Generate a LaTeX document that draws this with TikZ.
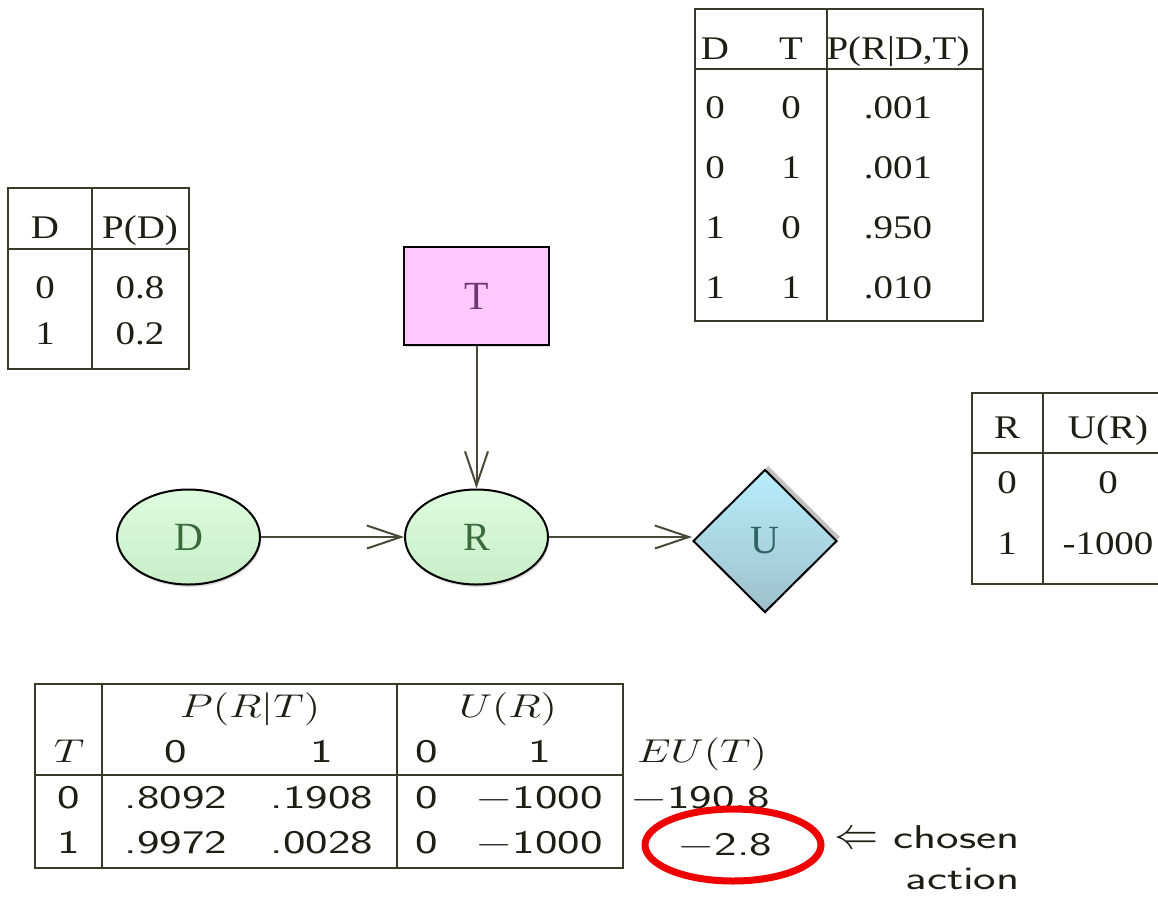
\documentclass[tikz,border=0pt]{standalone}
\usepackage{fix-cm}
\usepackage{fontspec}
\usepackage{graphicx}
\usetikzlibrary{shapes.geometric,arrows.meta,shadows}

\newfontfamily\labelfont{Liberation Serif}

\definecolor{rulecol}{HTML}{3A3A28}
\definecolor{inkcol}{HTML}{1E1E14}
\definecolor{edgecol}{HTML}{4A4A38}
\definecolor{pinkfill}{HTML}{FFC8FF}
\definecolor{greentop}{HTML}{DDFCDD}
\definecolor{greenbot}{HTML}{C8EEC8}
\definecolor{bluetop}{HTML}{B8EEFC}
\definecolor{bluebot}{HTML}{9EBFCB}
\definecolor{greenink}{HTML}{3A6B3A}
\definecolor{pinkink}{HTML}{703870}
\definecolor{blueink}{HTML}{2E6464}
\definecolor{markred}{HTML}{EE0000}

% widened cell texts
\newcommand{\serifcell}[1]{\scalebox{1.18}[1]{\labelfont\fontsize{16.5}{19}\selectfont #1}}
\newcommand{\sanscell}[1]{\scalebox{1.45}[1]{\sffamily\fontsize{16.5}{19}\selectfont #1}}
\newcommand{\mathcell}[1]{\scalebox{1.3}[1]{\fontsize{16.5}{19}\selectfont #1}}

\tikzset{
  tabrule/.style={draw=rulecol, line width=1.25pt},
  sumrule/.style={draw=rulecol, line width=1pt},
  cell/.style={anchor=base, inner sep=0pt, text=inkcol},
  chance/.style={ellipse, draw=black, line width=1pt, inner sep=0pt,
    minimum width=71.5pt, minimum height=47.5pt,
    top color=greentop, bottom color=greenbot, text=greenink,
    font=\labelfont\fontsize{20}{24}\selectfont,
    drop shadow={shadow xshift=0.6pt, shadow yshift=-1.2pt, fill=gray!60, opacity=0.5}},
  decision/.style={rectangle, draw=black, line width=1.3pt, inner sep=0pt,
    minimum width=72.5pt, minimum height=49pt, fill=pinkfill, text=pinkink,
    font=\labelfont\fontsize{20}{24}\selectfont,
    drop shadow={shadow xshift=0.6pt, shadow yshift=-0.8pt, fill=gray!60, opacity=0.4}},
  utility/.style={diamond, draw=black, line width=1pt, inner sep=0pt,
    minimum width=72pt, minimum height=71.5pt,
    top color=bluetop, bottom color=bluebot, text=blueink,
    font=\labelfont\fontsize{20}{24}\selectfont,
    drop shadow={shadow xshift=1.6pt, shadow yshift=2pt, fill=gray!70, opacity=0.7}},
  link/.style={draw=edgecol, line width=1pt, -{Straight Barb[length=17pt,width=11.5pt]}},
}

\begin{document}
\begin{tikzpicture}[x=0.5pt,y=-0.5pt]
\useasboundingbox (0,0) rectangle (1158,896);

% ---------- P(D) table ----------
\draw[tabrule] (8,188) rectangle (189,369);
\draw[tabrule] (92,188) -- (92,369);
\draw[tabrule] (8,249) -- (189,249);
\node[cell] (pd-h1) at (45,238) {\serifcell{D}};
\node[cell] (pd-h2) at (140,238) {\serifcell{P(D)}};
\node[cell] (pd-a1) at (45,298) {\serifcell{0}};
\node[cell] (pd-a2) at (140,298) {\serifcell{0.8}};
\node[cell] (pd-b1) at (45,344) {\serifcell{1}};
\node[cell] (pd-b2) at (140,344) {\serifcell{0.2}};

% ---------- P(R|D,T) table ----------
\draw[tabrule] (695,9) rectangle (983,321);
\draw[tabrule] (827,9) -- (827,321);
\draw[tabrule] (695,69) -- (983,69);
\node[cell] (pr-h1) at (715,59) {\serifcell{D}};
\node[cell] (pr-h2) at (791,59) {\serifcell{T}};
\node[cell] (pr-h3) at (898,59) {\serifcell{P(R|D,T)}};
\foreach \d/\t/\p/\y [count=\k] in {0/0/.001/118, 0/1/.001/178, 1/0/.950/238, 1/1/.010/298}{
  \node[cell] (pr-\k d) at (715,\y) {\serifcell{\d}};
  \node[cell] (pr-\k t) at (791,\y) {\serifcell{\t}};
  \node[cell] (pr-\k p) at (898,\y) {\serifcell{\p}};
}

% ---------- U(R) table ----------
\draw[tabrule] (1158,393) -- (972,393) -- (972,584) -- (1158,584);
\draw[tabrule] (1043,393) -- (1043,584);
\draw[tabrule] (972,453) -- (1158,453);
\node[cell] (ur-h1) at (1007,438) {\serifcell{R}};
\node[cell] (ur-h2) at (1108,438) {\serifcell{U(R)}};
\node[cell] (ur-a1) at (1007,493) {\serifcell{0}};
\node[cell] (ur-a2) at (1108,493) {\serifcell{0}};
\node[cell] (ur-b1) at (1007,554) {\serifcell{1}};
\node[cell] (ur-b2) at (1108,554) {\serifcell{-1000}};

% ---------- influence diagram ----------
\node[decision] (T) at (476.5,296) {T};
\node[chance] (D) at (188.5,537) {D};
\node[chance] (R) at (476.5,537) {R};
\node[utility] (U) at (765,541) {U};

\draw[link] (D.east) -- (R.west);
\draw[link] (R.east) -- (R.east -| U.west);
\draw[link] (T.south) -- (R.north);

% ---------- expected utility table ----------
\draw[sumrule] (35,684) rectangle (623,868);
\draw[sumrule] (102,684) -- (102,868);
\draw[sumrule] (397,684) -- (397,868);
\draw[sumrule] (35,775) -- (623,775);

\node[cell] (eu-prt) at (250,717) {\mathcell{$P(R|T)$}};
\node[cell] (eu-ur)  at (508,717) {\mathcell{$U(R)$}};

\node[cell] (eu-t)   at (69,762)  {\mathcell{$T$}};
\node[cell] (eu-p0)  at (176,762) {\sanscell{0}};
\node[cell] (eu-p1)  at (322,762) {\sanscell{1}};
\node[cell] (eu-u0)  at (427,762) {\sanscell{0}};
\node[cell] (eu-u1)  at (540,762) {\sanscell{1}};
\node[cell] (eu-eut) at (702,762) {\mathcell{$EU(T)$}};

\node[cell] (r0-t)  at (69,808)  {\sanscell{0}};
\node[cell] (r0-p0) at (176,808) {\sanscell{.8092}};
\node[cell] (r0-p1) at (322,808) {\sanscell{.1908}};
\node[cell] (r0-u0) at (427,808) {\sanscell{0}};
\node[cell] (r0-u1) at (539,808) {\sanscell{$-$1000}};
\node[cell] (r0-eu) at (700,808) {\sanscell{$-$190.8}};

\node[cell] (r1-t)  at (69,853)  {\sanscell{1}};
\node[cell] (r1-p0) at (176,853) {\sanscell{.9972}};
\node[cell] (r1-p1) at (322,853) {\sanscell{.0028}};
\node[cell] (r1-u0) at (427,853) {\sanscell{0}};
\node[cell] (r1-u1) at (539,853) {\sanscell{$-$1000}};
\node[cell] (r1-eu) at (725,855) {\sanscell{$-$2.8}};

% highlight of the best action
\node[ellipse, draw=markred, line width=3.5pt, minimum width=88pt, minimum height=36pt, inner sep=0pt] (pick) at (733,845) {};
\node[inner sep=0pt, text=inkcol, font=\sffamily\fontsize{22}{26}\selectfont] (pick-arrow) at (856,840) {$\Leftarrow$};
\node[cell, anchor=base east] (pick-l1) at (1020,848) {\sanscell{chosen}};
\node[cell, anchor=base east] (pick-l2) at (1020,889) {\sanscell{action}};
\end{tikzpicture}
\end{document}
